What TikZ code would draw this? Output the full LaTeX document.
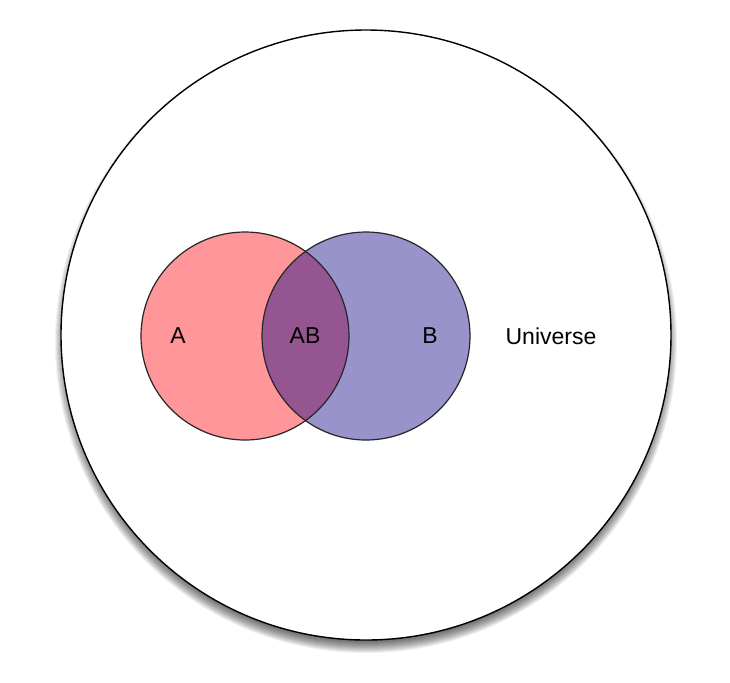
\documentclass[tikz,border=0pt]{standalone}
\usepackage{fontspec}
\setmainfont{Liberation Sans}
\definecolor{setA}{RGB}{255,150,153}
\definecolor{setB}{RGB}{152,148,203}
\definecolor{setAB}{RGB}{149,85,144}
\begin{document}
\begin{tikzpicture}[x=0.5pt,y=-0.5pt,font=\fontsize{11.5}{14}\selectfont]
  \useasboundingbox (0,0) rectangle (730,682);
  \fill[white] (0,0) rectangle (730,682);
  % soft shadow under the universe
  \foreach \i in {0,...,13}
    \fill[black,opacity=0.06] (366,342) circle ({298+\i});
  \draw[fill=white,line width=0.7pt] (366,335) circle (305);
  \fill[setA] (245,336) circle (104);
  \fill[setB] (366,336) circle (104);
  \begin{scope}
    \clip (245,336) circle (104);
    \fill[setAB] (366,336) circle (104);
  \end{scope}
  \draw[line width=0.6pt,black!85] (245,336) circle (104);
  \draw[line width=0.6pt,black!85] (366,336) circle (104);
  \node (labelA) at (178,336) {A};
  \node (labelAB) at (305,336) {AB};
  \node (labelB) at (430,336) {B};
  \node (universe) at (551,336) {Universe};
\end{tikzpicture}
\end{document}
